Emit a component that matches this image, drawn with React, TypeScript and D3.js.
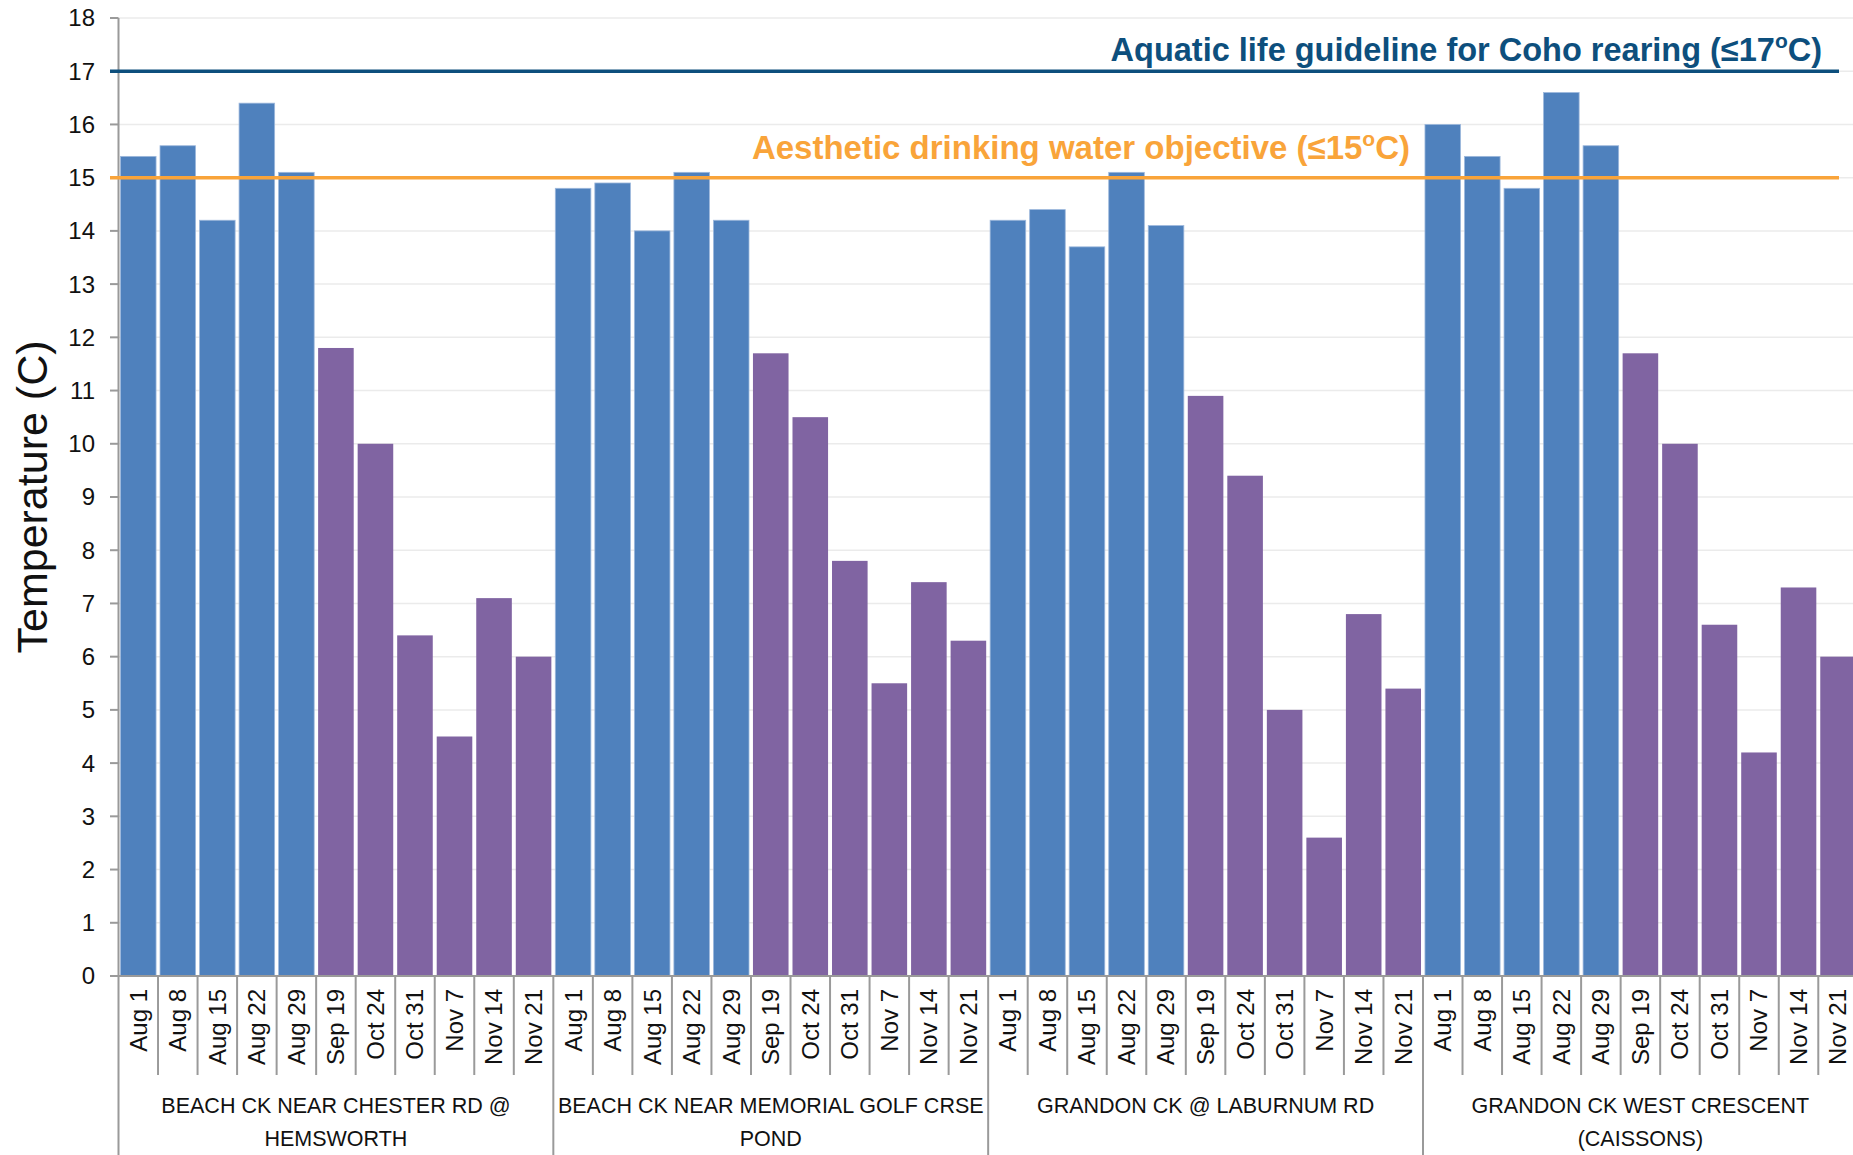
import React from 'react';
import * as d3 from "d3";

const dates = ["Aug 1", "Aug 8", "Aug 15", "Aug 22", "Aug 29", "Sep 19", "Oct 24", "Oct 31", "Nov 7", "Nov 14", "Nov 21"];

const sites = [
    ["BEACH CK NEAR CHESTER RD @", "HEMSWORTH"],
    ["BEACH CK NEAR MEMORIAL GOLF CRSE", "POND"],
    ["GRANDON CK @ LABURNUM RD"],
    ["GRANDON CK WEST CRESCENT", "(CAISSONS)"],
];

const chesterTemps = [15.4, 15.6, 14.2, 16.4, 15.1, 11.8, 10.0, 6.4, 4.5, 7.1, 6.0];
const golfTemps = [14.8, 14.9, 14.0, 15.1, 14.2, 11.7, 10.5, 7.8, 5.5, 7.4, 6.3];
const laburnumTemps = [14.2, 14.4, 13.7, 15.1, 14.1, 10.9, 9.4, 5.0, 2.6, 6.8, 5.4];
const caissonsTemps = [16.0, 15.4, 14.8, 16.6, 15.6, 11.7, 10.0, 6.6, 4.2, 7.3, 6.0];

const yTicks = d3.range(0, 19);

const guidelines = [
    { value: 17, label: "Aquatic life guideline for Coho rearing (≤17", color: "#0d4f7d" },
    { value: 15, label: "Aesthetic drinking water objective (≤15", color: "#f9a43a" },
];

const width = 1853,
    height = 1155,
    left = 118.5,
    step = 39.53,
    axisY = 976,
    font = "'Liberation Sans', Arial, sans-serif";

const App = () => {
    const allTemps = [chesterTemps, golfTemps, laburnumTemps, caissonsTemps];
    const rows = allTemps.flatMap((temps, g) => temps.map((t, i) => ({ g, date: dates[i], temp: t, key: g + "-" + i })));

    const xScale = d3.scaleBand()
        .domain(rows.map(d => d.key))
        .range([left, left + step * rows.length])
        .paddingInner(0.1)
        .paddingOuter(0.05);

    const yScale = d3.scaleLinear()
        .domain([0, 18])
        .range([axisY, 18]);

    const bandStep = xScale.step();
    const bandLeft = (k) => xScale(k) - bandStep * 0.05;

    return (
        <svg width={width} height={height} style={{ position: "fixed", left: 0, top: 0, background: "#fff" }} fontFamily={font}>
            {/* grid */}
            {yTicks.map(t => (
                <line key={"g" + t} x1={left} x2={width} y1={yScale(t)} y2={yScale(t)} stroke="#ebebeb" strokeWidth={1.5} />
            ))}

            {/* bars */}
            {rows.map(d => (
                <rect key={d.key} x={xScale(d.key)} width={xScale.bandwidth()} y={yScale(d.temp)} height={axisY - yScale(d.temp)}
                    fill={d.date.startsWith("Aug") ? "#4f81bd" : "#8064a2"} stroke="#9db8dc" strokeWidth={d.date.startsWith("Aug") ? 0.8 : 0} />
            ))}

            {/* y axis */}
            <line x1={left} x2={left} y1={yScale(18)} y2={height} stroke="#9a9a9a" strokeWidth={2} />
            {yTicks.map(t => (
                <g key={"t" + t}>
                    <line x1={110} x2={left} y1={yScale(t)} y2={yScale(t)} stroke="#9a9a9a" strokeWidth={2} />
                    <text x={95} y={yScale(t)} dy="0.35em" textAnchor="end" fontSize={24} fill="#111">{t}</text>
                </g>
            ))}
            <text transform={`translate(47,497) rotate(-90)`} textAnchor="middle" fontSize={43} fill="#111">Temperature (C)</text>

            {/* x axis */}
            <line x1={left} x2={width} y1={axisY} y2={axisY} stroke="#9a9a9a" strokeWidth={2} />
            {rows.map((d, i) => (
                <g key={"x" + d.key}>
                    {i > 0 && (
                        <line x1={bandLeft(d.key)} x2={bandLeft(d.key)} y1={axisY} y2={i % dates.length === 0 ? height : 1075} stroke="#9a9a9a" strokeWidth={2} />
                    )}
                    <text transform={`translate(${xScale(d.key) + xScale.bandwidth() / 2},989) rotate(-90)`} textAnchor="end" dy="0.35em" fontSize={24} fill="#111">{d.date}</text>
                </g>
            ))}
            {sites.map((lines, g) => {
                const cx = left + step * dates.length * (g + 0.5);
                return (
                    <text key={"s" + g} x={cx} y={1105} textAnchor="middle" fontSize={21.5} fill="#111">
                        {lines.map((l, j) => (
                            <tspan key={j} x={cx} dy={j === 0 ? "0.35em" : 33}>{l}</tspan>
                        ))}
                    </text>
                );
            })}

            {/* guideline lines */}
            {guidelines.map(gl => (
                <line key={"l" + gl.value} x1={110} x2={1839} y1={yScale(gl.value)} y2={yScale(gl.value)} stroke={gl.color} strokeWidth={3.5} />
            ))}
            <text x={1822} y={61} textAnchor="end" fontSize={32.5} fontWeight="bold" fill={guidelines[0].color}>
                {guidelines[0].label}<tspan fontSize={21} dy={-13}>o</tspan><tspan dy={13}>C)</tspan>
            </text>
            <text x={1410} y={159} textAnchor="end" fontSize={33} fontWeight="bold" fill={guidelines[1].color}>
                {guidelines[1].label}<tspan fontSize={21} dy={-13}>o</tspan><tspan dy={13}>C)</tspan>
            </text>
        </svg>
    );
}

export default App;
